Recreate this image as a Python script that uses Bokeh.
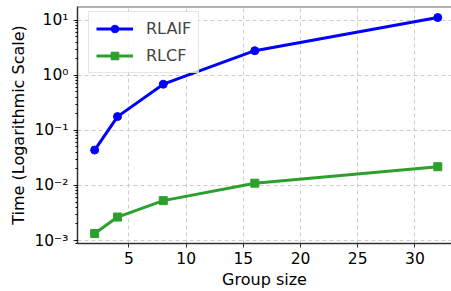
from bokeh.plotting import figure
from bokeh.models import Range1d, Legend, LegendItem, Span, CustomJSTickFormatter, FixedTicker
from bokeh.embed import file_html
from bokeh.resources import INLINE

group_sizes = [2, 4, 8, 16, 32]
rlaif_time = [0.044, 0.178, 0.69, 2.8, 11.2]
rlcf_time = [0.00134, 0.00267, 0.0053, 0.011, 0.0219]
x_ticks = [5, 10, 15, 20, 25, 30]
y_ticks = [0.001, 0.01, 0.1, 1, 10]

FONT = "DejaVu Sans"
Y_TOP = 10 ** 1.25

p = figure(width=451, height=291, y_axis_type="log", output_backend="svg",
           toolbar_location=None,
           x_range=Range1d(0.5, 33.2), y_range=Range1d(10 ** -3.054, Y_TOP),
           min_border_left=77, min_border_right=0, min_border_top=6, min_border_bottom=0)

p.outline_line_color = None
p.background_fill_color = "white"
p.border_fill_color = "white"

top_spine = Span(location=Y_TOP, dimension="width", line_color="#666666", line_width=2)
p.add_layout(top_spine)

l1 = p.line(group_sizes, rlaif_time, line_color="#0000ff", line_width=3)
s1 = p.scatter(group_sizes, rlaif_time, marker="circle", size=8, fill_color="#0000ff", line_color="#0000ff")
l2 = p.line(group_sizes, rlcf_time, line_color="#2ca02c", line_width=3)
s2 = p.scatter(group_sizes, rlcf_time, marker="square", size=8, fill_color="#2ca02c", line_color="#2ca02c")

legend = Legend(items=[LegendItem(label="RLAIF", renderers=[l1, s1]),
                       LegendItem(label="RLCF", renderers=[l2, s2])],
                location=(11, 170))
legend.label_text_font = FONT
legend.label_text_font_size = "16px"
legend.glyph_width = 37
legend.glyph_height = 19
legend.label_standoff = 13
legend.spacing = 8
legend.padding = 7
legend.margin = 0
legend.border_line_color = "#cccccc"
legend.border_line_width = 1
legend.background_fill_alpha = 0.8
p.add_layout(legend)

p.xaxis.ticker = FixedTicker(ticks=x_ticks)
p.yaxis.ticker.num_minor_ticks = 10
p.yaxis.formatter = CustomJSTickFormatter(code="""
    const e = Math.round(Math.log10(tick));
    const sup = {'-':'\u207b','0':'\u2070','1':'\u00b9','2':'\u00b2','3':'\u00b3','4':'\u2074','5':'\u2075','6':'\u2076','7':'\u2077','8':'\u2078','9':'\u2079'};
    return '10' + String(e).split('').map(c => sup[c]).join('');
""")

p.xaxis.axis_label = "Group size"
p.yaxis.axis_label = "Time (Logarithmic Scale)"
for ax in [p.xaxis, p.yaxis]:
    ax.axis_label_text_font = FONT
    ax.axis_label_text_font_size = "16px"
    ax.axis_label_text_font_style = "normal"
    ax.axis_label_text_color = "black"
    ax.major_label_text_font = FONT
    ax.major_label_text_font_size = "15.5px"
    ax.major_label_text_color = "black"
    ax.axis_line_color = "#333333"
    ax.axis_line_width = 1.5
    ax.major_tick_line_color = "#333333"
    ax.major_tick_out = 4
    ax.major_tick_in = 0
    ax.minor_tick_out = 2
    ax.minor_tick_in = 0
p.xaxis.minor_tick_line_color = None
p.xaxis.axis_label_standoff = 3
p.xaxis.major_label_standoff = 4
p.yaxis.axis_label_standoff = 3

p.grid.grid_line_color = "#cccccc"
p.grid.grid_line_dash = "4 3"
p.grid.grid_line_width = 1
p.ygrid.ticker = FixedTicker(ticks=y_ticks)

open("out.html", "w").write(file_html(p, INLINE))
